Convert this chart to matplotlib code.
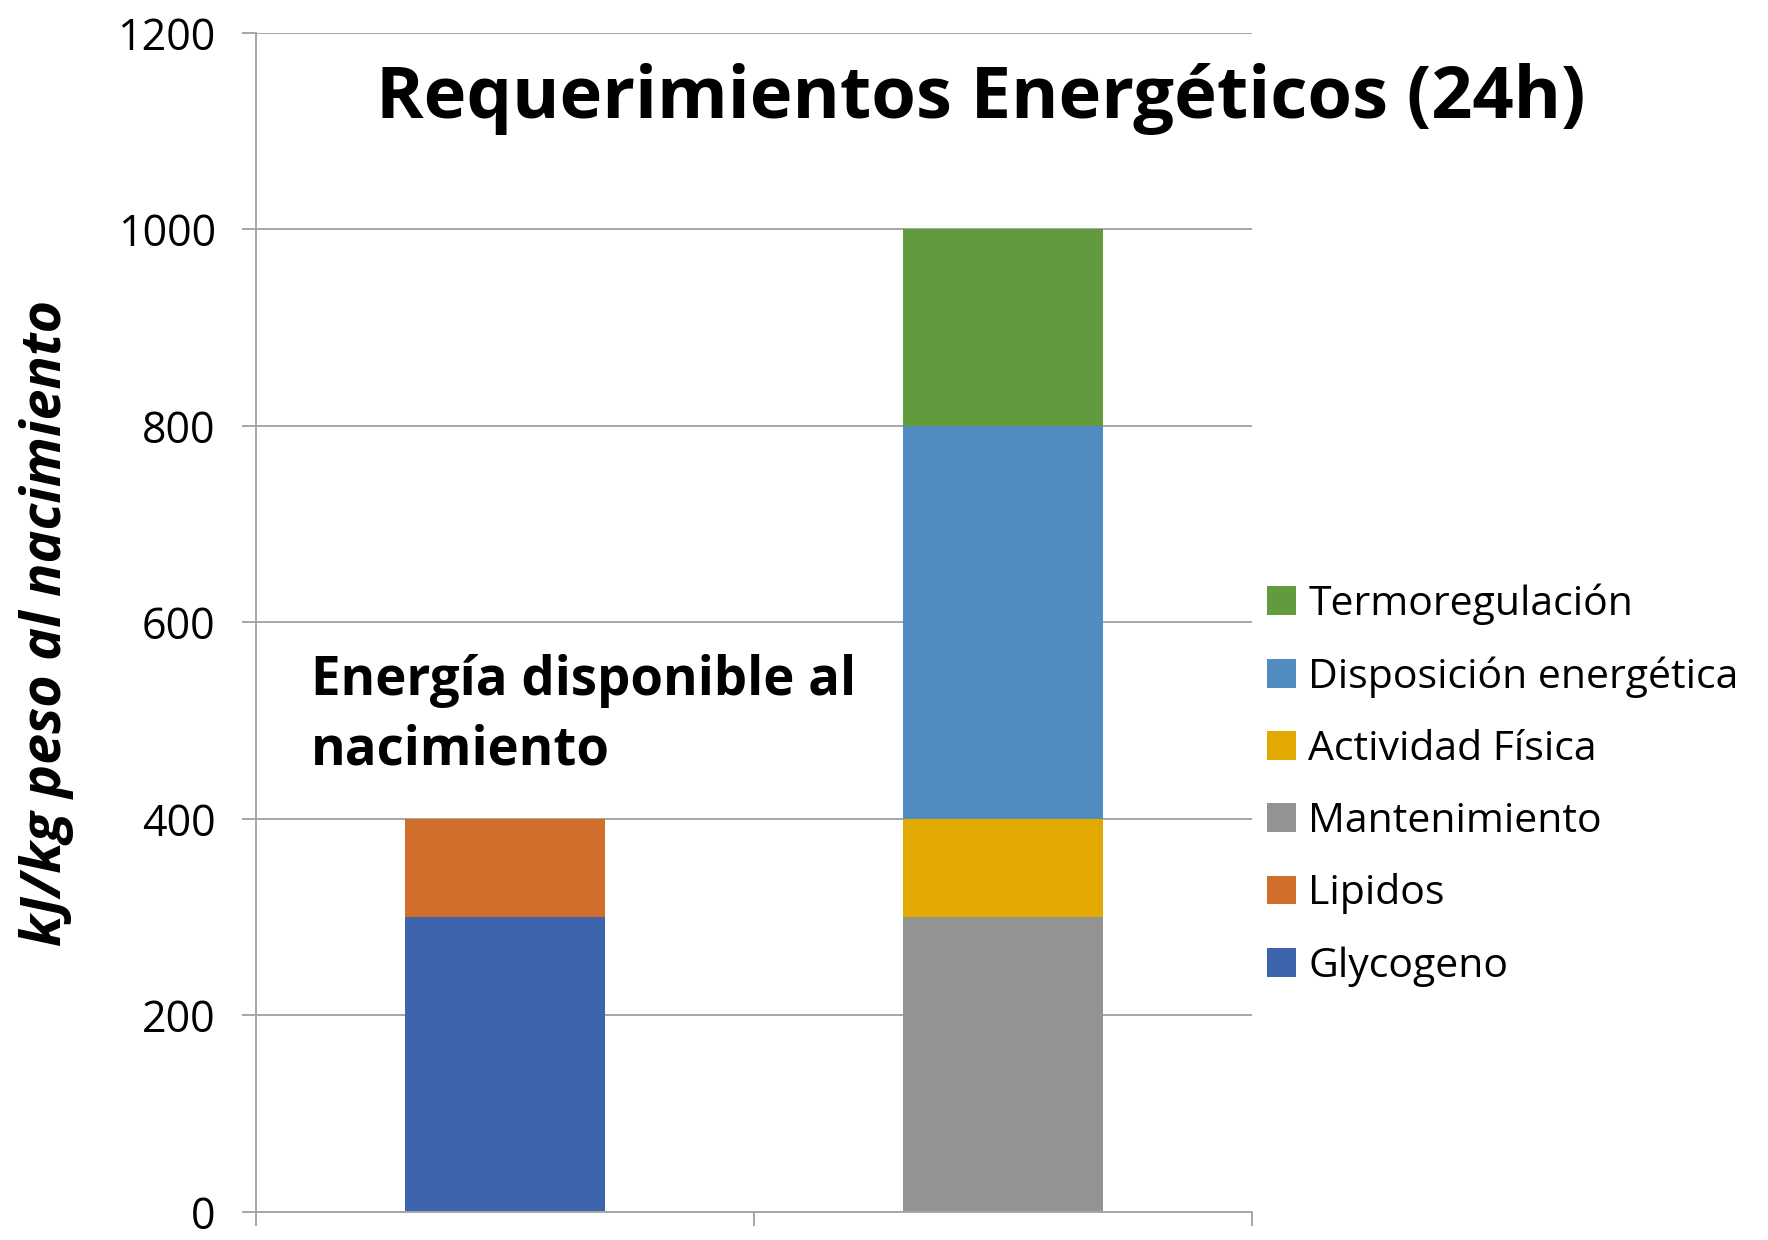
import numpy as np
import matplotlib.pyplot as plt

plt.rcParams['font.family'] = ['Open Sans', 'DejaVu Sans']

# two stacked bars: energy available at birth vs. requirements
categories = ['', '']
series = ['Glycogeno', 'Lipidos', 'Mantenimiento', 'Actividad Física',
          'Disposición energética', 'Termoregulación']
glycogeno = [300, 0]
lipidos = [100, 0]
mantenimiento = [0, 300]
actividad = [0, 100]
disposicion = [0, 400]
termo = [0, 200]
colors = ['#3E64AD', '#D26E2B', '#939393', '#E2AA00', '#518BC0', '#629B3E']

values = [glycogeno, lipidos, mantenimiento, actividad, disposicion, termo]

fig = plt.figure(figsize=(17.68, 12.4), dpi=100)
ax = fig.add_axes([0.1448, 0.0226, 0.5633, 0.9508])

x = np.arange(len(categories))
bottom = np.zeros(len(categories))
handles = []
for name, v, c in zip(series, values, colors):
    b = ax.bar(x, v, width=0.4, bottom=bottom, color=c, label=name, zorder=2)
    handles.append(b)
    bottom += np.array(v)

ax.set_xlim(-0.5, 1.5)
ax.set_ylim(0, 1200)
ax.set_yticks(np.arange(0, 1201, 200))
ax.set_xticks([-0.5, 0.5, 1.5])
ax.set_xticklabels([])
ax.yaxis.grid(True, color='#a6a6a6', linewidth=1.4, zorder=0)
ax.set_axisbelow(True)
for s in ['top', 'right']:
    ax.spines[s].set_visible(False)
for s in ['left', 'bottom']:
    ax.spines[s].set_color('#a6a6a6')
    ax.spines[s].set_linewidth(1.4)
ax.tick_params(axis='both', colors='#a6a6a6', length=10, width=1.4)
ax.tick_params(axis='y', labelcolor='black', labelsize=31, pad=19)

ax.set_ylabel('kJ/kg peso al nacimiento', fontsize=40, fontweight='bold',
              fontstyle='italic')
ax.yaxis.set_label_coords(-0.183, 0.5)

ax.text(-0.39, 505, 'Energía disponible al\nnacimiento', fontsize=38,
        fontweight='bold', va='center', ha='left', linespacing=1.38)

fig.text(0.555, 0.92, 'Requerimientos Energéticos (24h)', fontsize=52,
         fontweight='bold', ha='center', va='center')

leg = fig.legend(handles[::-1], series[::-1], loc='center left',
                 bbox_to_anchor=(0.696, 0.367), frameon=False, fontsize=29.5,
                 handlelength=0.7, handleheight=0.7, labelspacing=0.77,
                 handletextpad=0.3)

fig.savefig('out.png', dpi=100)
